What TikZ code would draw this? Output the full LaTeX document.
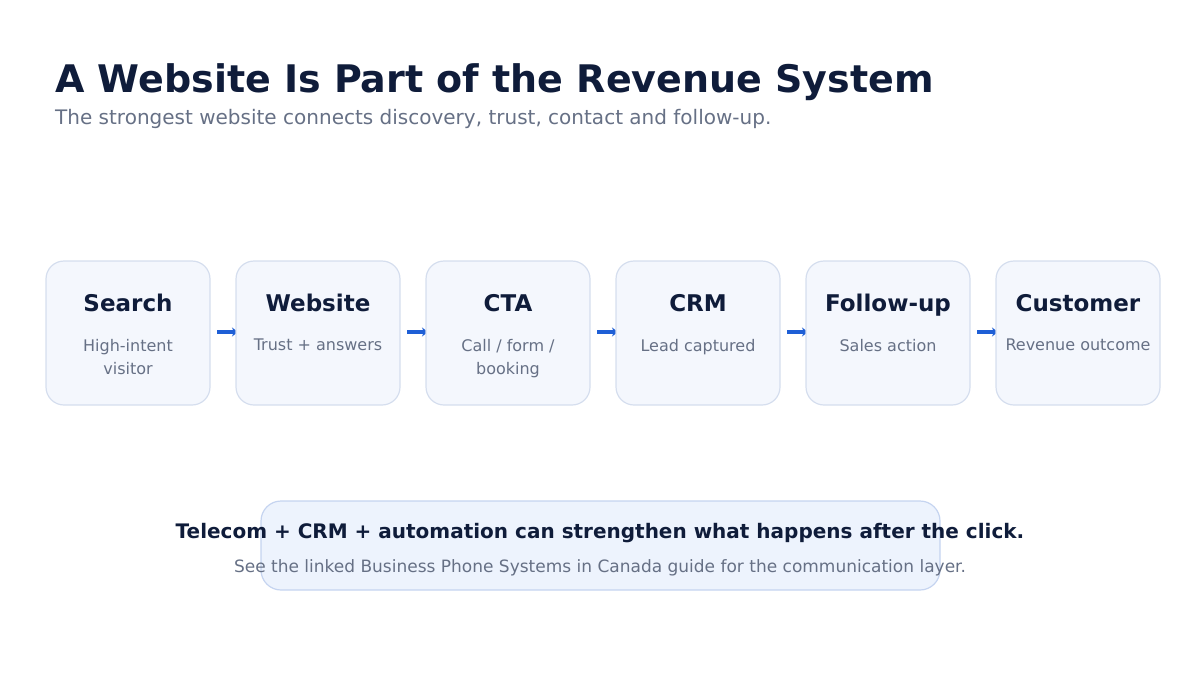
\documentclass[tikz,border=0pt]{standalone}
\usepackage{fontspec}
\setmainfont{DejaVu Sans}
\usetikzlibrary{arrows.meta}
\definecolor{navy}{HTML}{0F1C3A}
\definecolor{greyt}{HTML}{667085}
\definecolor{boxf}{HTML}{F4F7FD}
\definecolor{boxd}{HTML}{D5DEEE}
\definecolor{notef}{HTML}{EDF3FD}
\definecolor{noted}{HTML}{C5D4F0}
\definecolor{arr}{HTML}{1E5FD6}
\begin{document}
\begin{tikzpicture}[x=1pt,y=-1pt,
  box/.style={draw=boxd,line width=1.2pt,fill=boxf,rounded corners=18pt,minimum width=164pt,minimum height=144pt,inner sep=0pt},
  ttl/.style={font=\fontsize{23}{27}\selectfont\bfseries,text=navy},
  sub/.style={font=\fontsize{16}{23}\selectfont,text=greyt,align=center},
  con/.style={draw=arr,line width=3.5pt,-{Stealth[length=6pt,width=9pt]}}]
\useasboundingbox (0,0) rectangle (1200,675);
\node[anchor=base west,font=\fontsize{38}{44}\selectfont\bfseries,text=navy,inner sep=0] (t) at (55,92) {A Website Is Part of the Revenue System};
\node[anchor=base west,font=\fontsize{20}{24}\selectfont,text=greyt,inner sep=0] (s) at (55,124) {The strongest website connects discovery, trust, contact and follow-up.};
\foreach \i in {0,...,5}{
  \coordinate (c\i) at (128+190*\i,333);
}
\foreach \i in {0,...,4}{
  \coordinate (p\i) at (217+190*\i,332);
  \coordinate (q\i) at (238+190*\i,332);
  \draw[con] (p\i) -- (q\i);
}
\foreach \i/\n/\a in {0/Search/{High-intent\\visitor},1/Website/{Trust + answers},2/CTA/{Call / form /\\booking},3/CRM/{Lead captured},4/Follow-up/{Sales action},5/Customer/{Revenue outcome}}{
  \node[box] (b\i) at (c\i) {};
  \node[ttl,anchor=base] (h\i) at (128+190*\i,311) {\n};
  \node[sub,anchor=north,inner sep=0] (d\i) at (128+190*\i,339) {\a};
}
\node[draw=noted,line width=1.2pt,fill=notef,rounded corners=20pt,minimum width=679pt,minimum height=89pt] (n) at (600.5,545.5) {};
\node[anchor=base,font=\fontsize{20}{22}\selectfont\bfseries,text=navy] (n1) at (600,538) {Telecom + CRM + automation can strengthen what happens after the click.};
\node[anchor=base,font=\fontsize{17}{20}\selectfont,text=greyt] (n2) at (600,572) {See the linked Business Phone Systems in Canada guide for the communication layer.};
\end{tikzpicture}
\end{document}
